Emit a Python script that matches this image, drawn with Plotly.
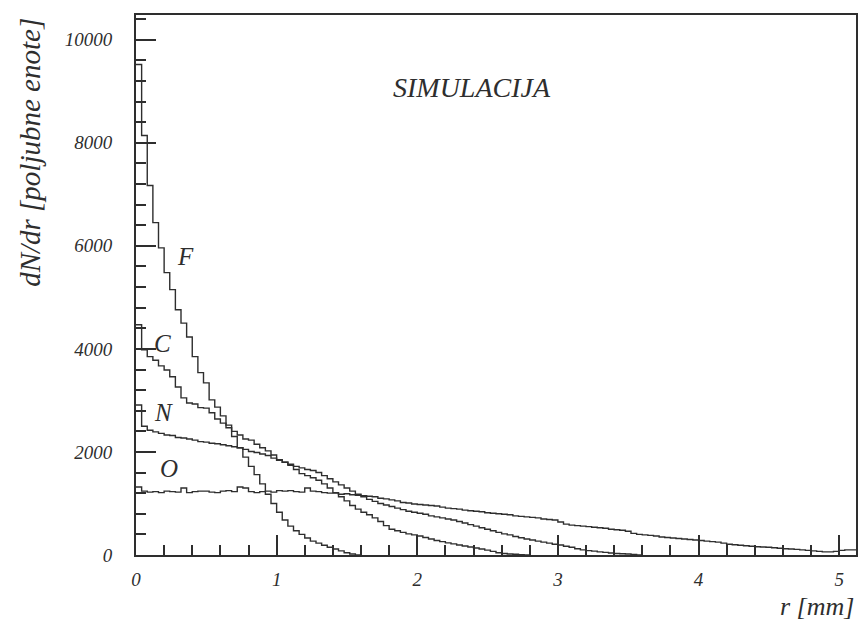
import plotly.graph_objects as go

# ---------------- data (bin width 0.04 mm, bins start at r = 0) ----------------
BIN_W = 0.04
R_MAX = 5.12

F_counts = [9520, 8140, 7170, 6450, 5960, 5480, 5150, 4760, 4500, 4230,
            3850, 3540, 3340, 3010, 2870, 2700, 2520, 2300, 2080, 1900,
            1720, 1560, 1380, 1180, 1000, 830, 680, 560, 470, 400,
            330, 270, 230, 190, 150, 115, 80, 45, 20, 0]

C_counts = [4470, 3980, 3850, 3780, 3670, 3590, 3460, 3260, 3050, 2950,
            2930, 2860, 2850, 2760, 2640, 2560, 2470, 2400, 2330, 2250,
            2230, 2150, 2080, 2020, 1940, 1850, 1800, 1740, 1660, 1580,
            1540, 1500, 1450, 1380, 1300, 1210, 1130, 1050, 960, 890,
            830, 780, 720, 650, 570, 500, 470, 440, 410, 390,
            370, 340, 310, 280, 260, 235, 215, 195, 175, 155,
            136, 115, 95, 70, 45, 30, 20, 15, 8, 0]

N_counts = [2910, 2500, 2420, 2390, 2360, 2330, 2320, 2280, 2270, 2250,
            2230, 2200, 2190, 2170, 2160, 2140, 2120, 2100, 2080, 2050,
            2010, 1990, 1960, 1930, 1880, 1840, 1800, 1760, 1720, 1690,
            1660, 1640, 1600, 1540, 1480, 1420, 1360, 1300, 1240, 1180,
            1130, 1080, 1040, 1000, 970, 940, 910, 880, 850, 830,
            810, 790, 760, 740, 720, 700, 680, 650, 620, 590,
            560, 530, 500, 470, 440, 410, 390, 360, 335, 310,
            290, 270, 250, 230, 210, 195, 170, 150, 120, 100,
            85, 75, 60, 50, 40, 30, 25, 20, 10, 0]

O_counts = [1320, 1240, 1220, 1230, 1210, 1240, 1230, 1220, 1300, 1210,
            1230, 1240, 1240, 1220, 1210, 1240, 1250, 1230, 1320, 1300,
            1230, 1210, 1230, 1240, 1220, 1250, 1240, 1250, 1230, 1220,
            1300, 1240, 1230, 1210, 1200, 1200, 1180, 1190, 1170, 1160,
            1150, 1140, 1130, 1100, 1090, 1070, 1050, 1020, 1010, 990,
            980, 970, 960, 950, 930, 910, 900, 890, 870, 860,
            850, 840, 820, 810, 800, 790, 780, 760, 750, 740,
            730, 720, 700, 690, 680, 640, 600, 580, 570, 560,
            550, 540, 530, 520, 500, 490, 480, 460, 420, 400,
            390, 380, 370, 350, 340, 330, 320, 310, 300, 290,
            280, 270, 260, 250, 230, 210, 200, 190, 180, 170,
            160, 155, 150, 140, 130, 120, 115, 110, 100, 90,
            80, 70, 60, 60, 70, 90, 100, 100]

curve_labels = ["F", "C", "N", "O"]
label_r = [0.354, 0.19, 0.198, 0.233]
label_v = [5790, 4100, 2760, 1670]

x_ticks = [0, 1, 2, 3, 4, 5]
x_tick_text = ["0", "1", "2", "3", "4", "5"]
y_ticks = [0, 2000, 4000, 6000, 8000, 10000]
y_tick_text = ["0", "2000", "4000", "6000", "8000", "10000"]

INK = "#2e2e2e"
FONT = "Liberation Serif"

fig = go.Figure()
for vals in (F_counts, C_counts, N_counts, O_counts):
    xs = [i * BIN_W for i in range(len(vals) + 1)]
    ys = list(vals) + [vals[-1]]
    fig.add_trace(go.Scatter(x=xs, y=ys, mode="lines", line_shape="hv",
                             line=dict(color=INK, width=1.4),
                             hoverinfo="skip", showlegend=False))

for t, r, v in zip(curve_labels, label_r, label_v):
    fig.add_annotation(x=r, y=v, text=t, showarrow=False,
                       font=dict(family=FONT, size=25, style="italic", color=INK))

fig.add_annotation(x=2.39, y=9070, text="SIMULACIJA", showarrow=False,
                   font=dict(family=FONT, size=28, style="italic", color=INK))

fig.add_annotation(xref="paper", yref="paper", x=-0.147, y=0.745,
                   xanchor="center", yanchor="middle",
                   text="dN/dr [poljubne enote]", textangle=-90, showarrow=False,
                   font=dict(family=FONT, size=29, style="italic", color=INK))
fig.add_annotation(xref="paper", yref="paper", x=1.0, y=-0.096,
                   xanchor="right", yanchor="middle",
                   text="r [mm]", showarrow=False,
                   font=dict(family=FONT, size=26, style="italic", color=INK))

axis_common = dict(showline=True, linecolor=INK, linewidth=2, mirror=True,
                   ticks="inside", ticklen=20, tickwidth=1.5, tickcolor=INK,
                   showgrid=False, zeroline=False,
                   tickfont=dict(family=FONT, size=19, style="italic", color=INK))

fig.update_xaxes(range=[0, R_MAX], tickvals=x_ticks, ticktext=x_tick_text,
                 ticklabelstandoff=6,
                 minor=dict(dtick=0.2, tick0=0, ticks="inside", ticklen=10,
                            tickwidth=1.5, tickcolor=INK, showgrid=False),
                 **axis_common)
fig.update_yaxes(range=[0, 10480], tickvals=y_ticks, ticktext=y_tick_text,
                 ticklabelstandoff=18,
                 minor=dict(dtick=400, tick0=0, ticks="inside", ticklen=10,
                            tickwidth=1.5, tickcolor=INK, showgrid=False),
                 **axis_common)

fig.update_layout(width=860, height=625,
                  margin=dict(l=136, r=2, t=15, b=70),
                  plot_bgcolor="white", paper_bgcolor="white",
                  showlegend=False)

fig.write_html("out.html")
